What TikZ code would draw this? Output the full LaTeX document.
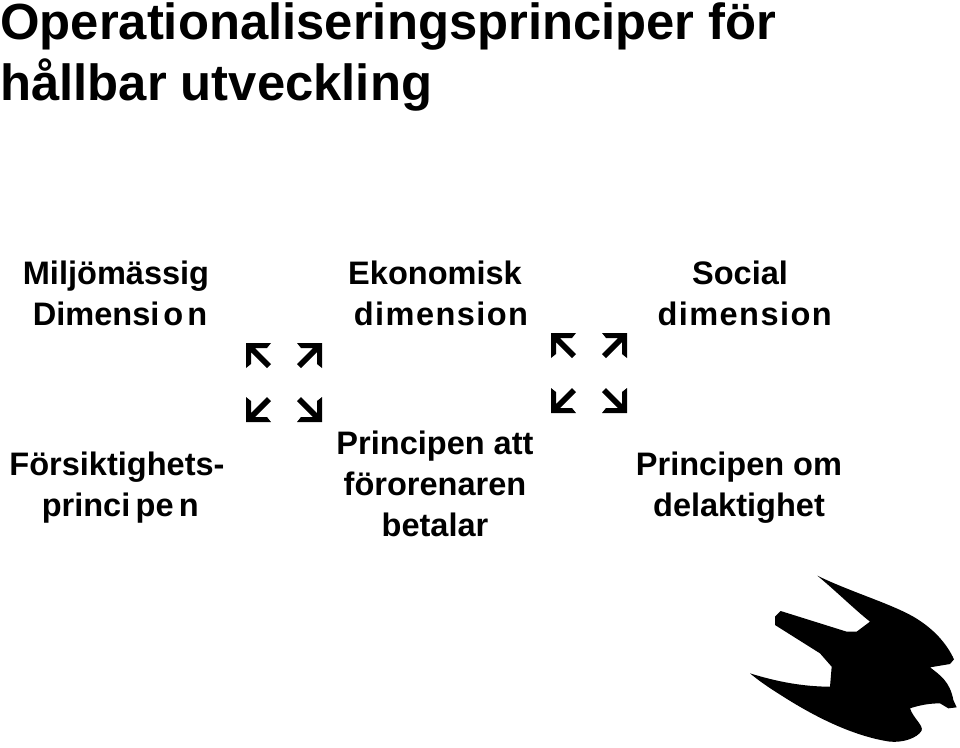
\documentclass[tikz,border=0pt]{standalone}
\usepackage{fontspec}
\setmainfont{Liberation Sans}
\newfontfamily\spacedfont[LetterSpace=4.4]{Liberation Sans Bold}
\newcommand{\spacedline}[2]{{\spacedfont\hspace*{#1pt}#2}}
\tikzset{
  titletext/.style={inner sep=0pt, anchor=base west, align=left, font=\bfseries\fontsize{38.1}{45.75}\selectfont},
  dimtext/.style={inner sep=0pt, anchor=base, align=center, font=\bfseries\fontsize{24.4}{30.75}\selectfont},
  bigarrow/.pic={
    \fill (0,0) -- (25,0) -- (21,5) -- (9,5) -- (25,21) -- (21,25) -- (5,9) -- (5,21) -- (0,25) -- cycle;
  }
}
\begin{document}
\begin{tikzpicture}[x=0.75pt,y=-0.75pt]
\useasboundingbox (0,0) rectangle (960,747);
\node[titletext] (title) at (0,100) {Operationaliseringsprinciper för\\håll\-bar utveckling};
\node[dimtext] (miljo) at (116,325) {Miljömässig\\\hspace*{6pt}Dimensi\kern3pt o\kern3pt n};
\node[dimtext] (ekon) at (435,325) {Ekonomisk\\\spacedline{9}{dimension}};
\node[dimtext] (social) at (740,325) {Social\\\spacedline{7}{dimension}};
\node[dimtext] (forsikt) at (117,516) {Försiktighets-\\\hspace*{5pt}princi\kern4pt pe\kern4pt n};
\node[dimtext] (princatt) at (435,536) {Principen att\\förorenaren\\betalar};
\node[dimtext] (princom) at (739,516) {Principen om\\delaktighet};
% pilar
\foreach \xa/\xb/\ya/\yb in {246/322/343/422, 551/627/333/413}{
  \pic at (\xa,\ya) {bigarrow};
  \pic[xscale=-1] at (\xb,\ya) {bigarrow};
  \pic[yscale=-1] at (\xa,\yb) {bigarrow};
  \pic[xscale=-1,yscale=-1] at (\xb,\yb) {bigarrow};
}
% fageln
\fill[shift={(740,560)},x=0.25pt,y=-0.25pt] (232,47) .. controls (330,95) and (450,130) .. (520,170)
  .. controls (580,205) and (620,250) .. (642,298) -- (630,312) -- (570,322)
  .. controls (600,345) and (630,365) .. (640,420) -- (650,442) -- (625,445) -- (600,430)
  .. controls (570,430) and (540,435) .. (510,445)
  .. controls (520,475) and (550,495) .. (545,512)
  .. controls (530,535) and (490,548) .. (450,545)
  .. controls (350,530) and (240,480) .. (130,410)
  .. controls (90,385) and (60,365) .. (30,340)
  .. controls (110,365) and (190,380) .. (270,380) -- (275,320) -- (240,280)
  -- (105,195) -- (105,170) -- (122,153) -- (320,215) -- (350,215) -- (390,185)
  .. controls (340,145) and (290,95) .. (232,47) -- cycle;
\end{tikzpicture}
\end{document}
